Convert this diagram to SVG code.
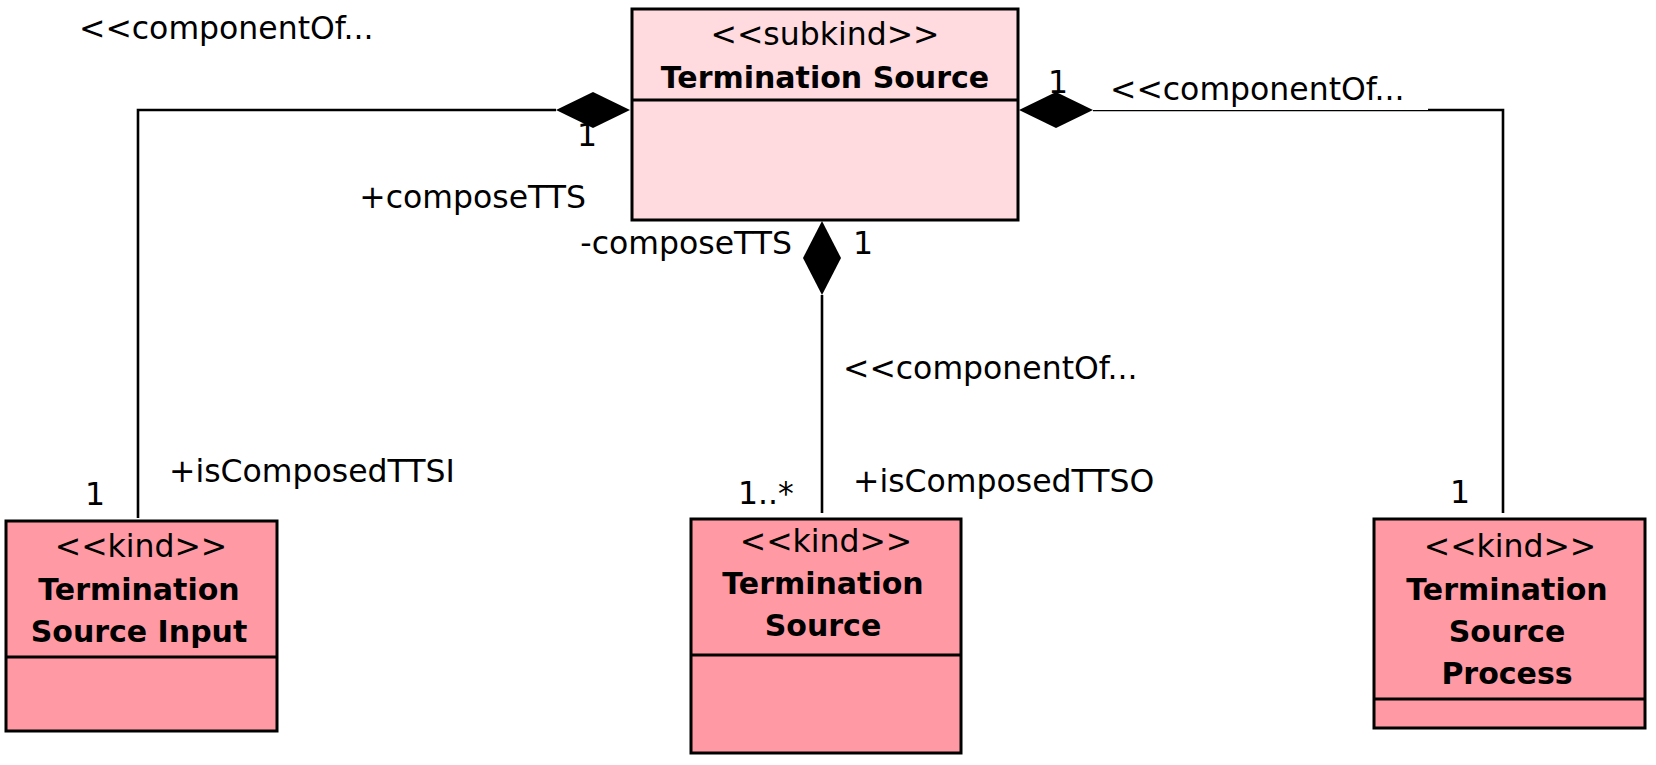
<svg xmlns="http://www.w3.org/2000/svg" width="1656" height="765" viewBox="0 0 1656 765">
<style>
.box{stroke:#000;stroke-width:3}
.sub{fill:#FFDADE}
.kind{fill:#FF99A3}
.div{stroke:#000;stroke-width:3}
.t{font-family:"DejaVu Sans",sans-serif;font-size:31.5px;fill:#000}
.b{font-family:"DejaVu Sans",sans-serif;font-size:30px;font-weight:bold;fill:#000}
.c{text-anchor:middle}
.e{text-anchor:end}
.ln{fill:none;stroke:#000;stroke-width:2.6}
.dia{fill:#000}
</style>
<rect width="1656" height="765" fill="#fff"/>
<g id="connectors">
  <path class="ln" d="M556 110 H138 V518"/>
  <path class="ln" d="M1093 110 H1503 V513"/>
  <rect x="1093" y="100" width="335" height="10" fill="#fff"/>
  <path class="ln" d="M822 295 V513"/>
  <text class="t c" x="587" y="146">1</text>
  <polygon class="dia" points="630,110 593,92 556,110 593,128"/>
  <polygon class="dia" points="1019,110 1056,92 1093,110 1056,128"/>
  <polygon class="dia" points="822,221 841,258 822,295 803,258"/>
  <text class="t" x="79" y="39">&lt;&lt;componentOf...</text>
  <text class="t e" x="586" y="208">+composeTTS</text>
  <text class="t c" x="1058" y="93">1</text>
  <text class="t" x="1110" y="100">&lt;&lt;componentOf...</text>
  <text class="t e" x="792" y="254">-composeTTS</text>
  <text class="t c" x="863" y="254">1</text>
  <text class="t" x="843" y="379">&lt;&lt;componentOf...</text>
  <text class="t" x="853" y="492">+isComposedTTSO</text>
  <text class="t" x="738" y="504">1..*</text>
  <text class="t c" x="95" y="505">1</text>
  <text class="t" x="169" y="482">+isComposedTTSI</text>
  <text class="t c" x="1460" y="503">1</text>
</g>
<g id="node-top">
  <rect class="box sub" x="632" y="9" width="386" height="211"/>
  <line class="div" x1="632" y1="100" x2="1018" y2="100"/>
  <text class="t c" x="825" y="45">&lt;&lt;subkind&gt;&gt;</text>
  <text class="b c" x="825" y="88">Termination Source</text>
</g>
<g id="node-input">
  <rect class="box kind" x="6" y="521" width="271" height="210"/>
  <line class="div" x1="6" y1="657" x2="277" y2="657"/>
  <text class="t c" x="141" y="557">&lt;&lt;kind&gt;&gt;</text>
  <text class="b c" x="139" y="600">Termination</text>
  <text class="b c" x="139" y="642">Source Input</text>
</g>
<g id="node-source">
  <rect class="box kind" x="691" y="519" width="270" height="234"/>
  <line class="div" x1="691" y1="655" x2="961" y2="655"/>
  <text class="t c" x="826" y="552">&lt;&lt;kind&gt;&gt;</text>
  <text class="b c" x="823" y="594">Termination</text>
  <text class="b c" x="823" y="636">Source</text>
</g>
<g id="node-process">
  <rect class="box kind" x="1374" y="519" width="271" height="209"/>
  <line class="div" x1="1374" y1="699" x2="1645" y2="699"/>
  <text class="t c" x="1510" y="557">&lt;&lt;kind&gt;&gt;</text>
  <text class="b c" x="1507" y="600">Termination</text>
  <text class="b c" x="1507" y="642">Source</text>
  <text class="b c" x="1507" y="684">Process</text>
</g>
</svg>
